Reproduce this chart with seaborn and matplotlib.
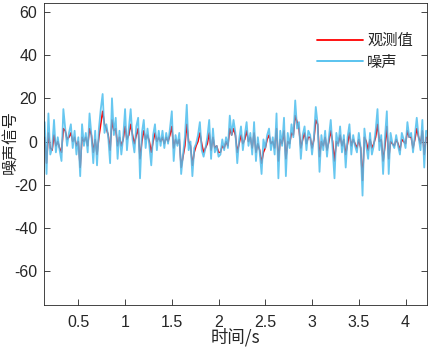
import numpy as np
import pandas as pd
import seaborn as sns
import matplotlib.pyplot as plt
from matplotlib.ticker import FuncFormatter

# sampling grid of the recorded signal
t_start = 0.14
dt = 0.02

# noise samples
noise = [
    9, -15, 13, -6, -3, 10, -5, 2, -4, -9,
    15, 6, -2, 4, 8, -3, 5, -6, 2, -16,
    8, -2, 4, -5, 13, 3, -10, 5, -11, 6,
    15, 22, 4, 8, 2, -10, 20, 3, 11, -8,
    5, -6, 2, 15, -4, 6, 15, 1, -5, 7,
    11, -17, 4, 10, -3, 6, -2, -11, 3, 8,
    -4, 5, -2, 5, -3, 4, -1, 6, 14, -9,
    3, -2, 4, -15, -6, 2, 17, -4, 0, -16,
    -3, -1, 3, 9, -4, -7, -3, 2, 10, -8,
    6, -5, -2, -7, -6, 1, -4, 2, -3, 12,
    3, 10, 4, -10, 1, 7, -4, 3, 9, -2,
    4, -6, 9, -9, 2, -5, -15, 1, -3, 3,
    6, -4, 2, -6, 13, -17, 5, -2, 11, -16,
    4, -3, 8, 2, 19, 6, 9, -8, 3, 7,
    -4, 5, 3, -6, 2, 16, 8, -14, 3, -4,
    5, -7, 2, 10, -3, -17, 4, -2, 7, -5,
    3, -12, 2, 8, -6, 3, -2, -5, 4, -3,
    -25, 6, -2, -8, 4, -6, -2, 5, 15, -4,
    3, -15, 2, 14, -15, 4, -1, -3, 3, -2,
    -6, 4, 1, -3, 9, 2, 4, -5, 3, 11,
    2, -4, 10, -12, 5,
]

observed = [
    2, -10, 4, -3, -4, 3, -2, 0, -3, -5,
    6, 5, 1, 2, 4, 0, 2, -2, 0, -12,
    2, 0, 2, -2, 6, 3, -5, 1, -6, 2,
    8, 14, 8, 6, 3, -4, 10, 5, 6, -2,
    2, -2, 1, 7, 1, 3, 8, 3, -1, 3,
    6, -8, 0, 5, 1, 3, 0, -5, 0, 4,
    0, 2, 0, 2, -1, 2, 0, 3, 7, -3,
    1, -1, 1, -12, -7, -2, 8, 0, -2, -11,
    -5, -2, 0, 4, -1, -5, -3, -1, 4, -4,
    2, -3, -2, -5, -5, -2, -3, 0, -2, 6,
    3, 6, 3, -5, -1, 3, -1, 1, 5, 0,
    2, -3, 4, -5, -1, -4, -10, -5, -3, 1,
    3, -1, 0, -3, 6, -9, 1, -1, 5, -8,
    0, -1, 4, 3, 12, 9, 6, -3, 1, 4,
    -1, 2, 2, -3, 1, 10, 8, -7, 0, -2,
    2, -4, 0, 5, 0, -9, 0, -1, 3, -2,
    1, -6, -1, 4, -2, 1, -1, -3, 1, -3,
    -18, 2, 0, -4, 1, -3, -1, 2, 8, 0,
    1, -9, -2, 7, -8, 0, -1, -2, 1, -1,
    -4, 1, 0, -1, 5, 2, 2, -3, 1, 6,
    2, -1, 5, -6, 2,
]

labels = ['观测值', '噪声']
colors = ['#ff0000', '#4dbeee']

t = t_start + dt * np.arange(len(noise))
df = pd.DataFrame({'t': t, 'observed': observed, 'noise': noise})

sns.set_style('white')
plt.rcParams['font.family'] = ['Liberation Sans', 'Noto Sans CJK SC', 'DejaVu Sans']
plt.rcParams['axes.unicode_minus'] = False
cjk = ['Noto Sans CJK SC', 'DejaVu Sans']

fig = plt.figure(figsize=(4.29, 3.48), dpi=100)
ax = fig.add_axes([0.1026, 0.124, 0.8924, 0.867])

sns.lineplot(data=df, x='t', y='observed', color=colors[0], lw=1.1,
             estimator=None, sort=False, ax=ax, label=labels[0])
sns.lineplot(data=df, x='t', y='noise', color=colors[1], lw=1.3, alpha=0.85,
             estimator=None, sort=False, ax=ax, label=labels[1])

ax.set_xlim(0.133, 4.228)
ax.set_ylim(-75.5, 64)
ax.set_xticks(np.arange(0.5, 4.01, 0.5))
ax.set_yticks(np.arange(-60, 61, 20))
ax.xaxis.set_major_formatter(FuncFormatter(lambda v, p: f'{v:g}'))
ax.yaxis.set_major_formatter(FuncFormatter(lambda v, p: f'{v:g}'))
ax.tick_params(direction='in', length=4, width=0.6, colors='#262626',
               labelsize=11.5, top=False, right=True, bottom=True, left=True)
ax.tick_params(axis='x', pad=7)
ax.tick_params(axis='y', pad=5)
for s in ax.spines.values():
    s.set_color('#262626')
    s.set_linewidth(0.6)

ax.set_xlabel('时间/s', fontsize=12.5, labelpad=-1, family=cjk)
ax.set_ylabel('噪声信号', fontsize=11.5, family=cjk)
ax.yaxis.set_label_coords(-0.066, 0.54)

leg = ax.legend(loc='upper right', bbox_to_anchor=(1.0, 0.95), frameon=False,
                handlelength=3.0, handletextpad=0.3, labelspacing=0.3,
                prop={'family': cjk, 'size': 11})
for h in leg.get_lines():
    h.set_alpha(1.0)
    h.set_linewidth(1.3)

fig.savefig('out.png', dpi=100)
